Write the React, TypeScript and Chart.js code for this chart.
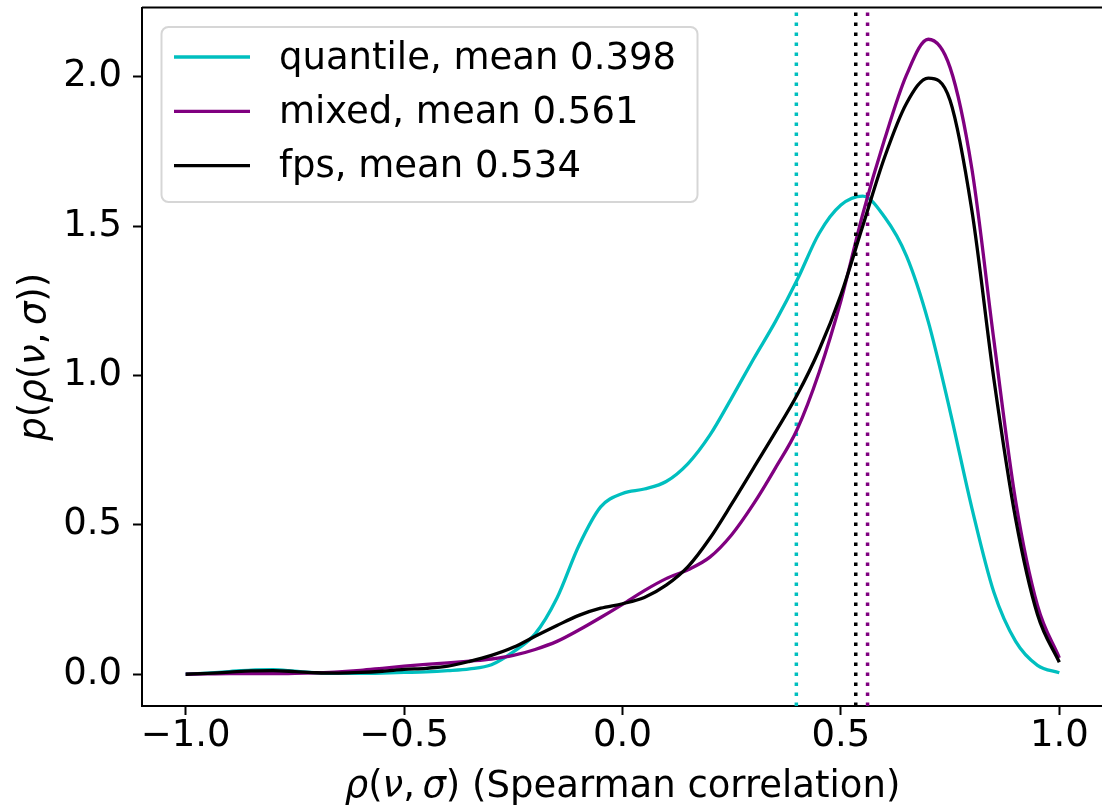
import React, { useEffect, useRef } from "react";
import Chart from "chart.js/auto";

// Evaluation grid for the kernel density estimates of Spearman correlation
const rhoGrid = [
  -1.0, -0.95, -0.9, -0.85, -0.8, -0.75, -0.7, -0.65, -0.6, -0.55,
  -0.5, -0.45, -0.4, -0.35, -0.3, -0.25, -0.2, -0.15, -0.1, -0.05,
  0.0, 0.05, 0.1, 0.15, 0.2, 0.25, 0.3, 0.35, 0.4, 0.45,
  0.5, 0.55, 0.6, 0.65, 0.7, 0.75, 0.8, 0.85, 0.9, 0.95, 1.0,
];

const quantileDensity = [
  0.0, 0.004, 0.009, 0.014, 0.015, 0.01, 0.005, 0.003, 0.003, 0.004,
  0.006, 0.008, 0.012, 0.018, 0.032, 0.075, 0.135, 0.255, 0.43, 0.56,
  0.605, 0.62, 0.645, 0.705, 0.8, 0.925, 1.055, 1.18, 1.32, 1.475,
  1.57, 1.6, 1.53, 1.4, 1.18, 0.88, 0.555, 0.275, 0.11, 0.03, 0.005,
];

const mixedDensity = [
  0.0, 0.001, 0.002, 0.002, 0.002, 0.003, 0.005, 0.008, 0.013, 0.02,
  0.027, 0.033, 0.038, 0.044, 0.051, 0.063, 0.083, 0.11, 0.148, 0.19,
  0.234, 0.28, 0.32, 0.35, 0.392, 0.467, 0.57, 0.69, 0.82, 1.01,
  1.25, 1.54, 1.79, 2.005, 2.125, 2.03, 1.69, 1.12, 0.58, 0.23, 0.055,
];

const fpsDensity = [
  0.0, 0.003, 0.007, 0.011, 0.012, 0.009, 0.005, 0.004, 0.006, 0.01,
  0.016, 0.02, 0.027, 0.043, 0.063, 0.09, 0.127, 0.163, 0.197, 0.221,
  0.236, 0.257, 0.298, 0.36, 0.455, 0.57, 0.69, 0.81, 0.935, 1.085,
  1.27, 1.5, 1.73, 1.91, 1.995, 1.92, 1.55, 0.99, 0.52, 0.2, 0.04,
];

const seriesLabels = ["quantile", "mixed", "fps"];
const seriesMeans = [0.398, 0.561, 0.534];
const seriesColors = ["#00bfbf", "#800080", "#000000"];

const xTickValues = [-1.0, -0.5, 0.0, 0.5, 1.0];
const yTickValues = [0.0, 0.5, 1.0, 1.5, 2.0];

// Canvas and plot-box geometry (pixels)
const CANVAS_W = 1120;
const CANVAS_H = 811;
const BOX = { left: 142, top: 7.5, right: 1103, bottom: 706 };
const FONT_FAMILY = '"DejaVu Sans", "Liberation Sans", sans-serif';
const FONT_PX = 37;

type Seg = [string, boolean];
const xTitle: Seg[] = [
  ["ρ", true], ["(", false], ["ν", true], [",", false], ["\u2009", false],
  ["σ", true], [")", false], [" (Spearman correlation)", false],
];
const yTitle: Seg[] = [
  ["p", true], ["(", false], ["ρ", true], ["(", false], ["ν", true],
  [",", false], ["\u2009", false], ["σ", true], [")", false], [")", false],
];

const fmtTick = (v: number) => (v < 0 ? "\u2212" : "") + Math.abs(v).toFixed(1);

function segFont(italic: boolean) {
  return `${italic ? "italic " : ""}${FONT_PX}px ${FONT_FAMILY}`;
}

function drawSegments(ctx: CanvasRenderingContext2D, segs: Seg[], cx: number, baseline: number) {
  let total = 0;
  const widths = segs.map(([t, it]) => {
    ctx.font = segFont(it);
    const w = ctx.measureText(t).width;
    total += w;
    return w;
  });
  let x = cx - total / 2;
  ctx.textAlign = "left";
  ctx.textBaseline = "alphabetic";
  segs.forEach(([t, it], i) => {
    ctx.font = segFont(it);
    ctx.fillText(t, x, baseline);
    x += widths[i];
  });
}

const framePlugin = {
  id: "frameAndLabels",
  afterDraw(chart: any) {
    const { ctx, chartArea } = chart;
    ctx.save();
    // top and right spines
    ctx.strokeStyle = "#000";
    ctx.lineWidth = 2;
    ctx.beginPath();
    ctx.moveTo(chartArea.left, chartArea.top);
    ctx.lineTo(chartArea.right, chartArea.top);
    ctx.lineTo(chartArea.right, chartArea.bottom);
    ctx.stroke();

    // axis titles
    ctx.fillStyle = "#000";
    const cx = (chartArea.left + chartArea.right) / 2;
    drawSegments(ctx, xTitle, cx, 797);
    ctx.save();
    ctx.translate(45, (chartArea.top + chartArea.bottom) / 2);
    ctx.rotate(-Math.PI / 2);
    drawSegments(ctx, yTitle, 0, 0);
    ctx.restore();

    // legend
    const lx = chartArea.left + 19.5;
    const ly = chartArea.top + 19.5;
    const lw = 536;
    const lh = 175;
    const r = 7;
    ctx.beginPath();
    ctx.moveTo(lx + r, ly);
    ctx.lineTo(lx + lw - r, ly);
    ctx.arcTo(lx + lw, ly, lx + lw, ly + r, r);
    ctx.lineTo(lx + lw, ly + lh - r);
    ctx.arcTo(lx + lw, ly + lh, lx + lw - r, ly + lh, r);
    ctx.lineTo(lx + r, ly + lh);
    ctx.arcTo(lx, ly + lh, lx, ly + lh - r, r);
    ctx.lineTo(lx, ly + r);
    ctx.arcTo(lx, ly, lx + r, ly, r);
    ctx.closePath();
    ctx.fillStyle = "rgba(255,255,255,0.8)";
    ctx.fill();
    ctx.strokeStyle = "rgba(204,204,204,0.8)";
    ctx.lineWidth = 2;
    ctx.stroke();

    seriesLabels.forEach((label, i) => {
      const rowY = 57 + i * 54.3;
      ctx.strokeStyle = seriesColors[i];
      ctx.lineWidth = 3.3;
      ctx.beginPath();
      ctx.moveTo(174, rowY);
      ctx.lineTo(250, rowY);
      ctx.stroke();
      ctx.fillStyle = "#000";
      ctx.font = `${FONT_PX}px ${FONT_FAMILY}`;
      ctx.textAlign = "left";
      ctx.textBaseline = "alphabetic";
      ctx.fillText(`${label}, mean ${seriesMeans[i].toFixed(3)}`, 279, rowY + 11.5);
    });
    ctx.restore();
  },
};

export default function App() {
  const canvasRef = useRef<HTMLCanvasElement | null>(null);

  useEffect(() => {
    const canvas = canvasRef.current;
    if (!canvas) return;

    const densities = [quantileDensity, mixedDensity, fpsDensity];
    const allY = densities.flat();
    const yLo = Math.min(...allY);
    const yHi = Math.max(...allY);
    const yPad = (yHi - yLo) * 0.05;
    const yMin = yLo - yPad;
    const yMax = yHi + yPad;
    const xLo = rhoGrid[0];
    const xHi = rhoGrid[rhoGrid.length - 1];
    const xPad = (xHi - xLo) * 0.05;

    const datasets: any[] = [];
    seriesLabels.forEach((label, i) => {
      datasets.push({
        label,
        data: rhoGrid.map((x, k) => ({ x, y: densities[i][k] })),
        borderColor: seriesColors[i],
        borderWidth: 3.3,
        pointRadius: 0,
        cubicInterpolationMode: "monotone",
        fill: false,
        order: 5 - 2 * i,
      });
      datasets.push({
        label: `${label} mean`,
        data: [
          { x: seriesMeans[i], y: yMin },
          { x: seriesMeans[i], y: yMax },
        ],
        borderColor: seriesColors[i],
        borderWidth: 3.5,
        borderDash: [3.5, 6.5],
        borderCapStyle: "butt",
        pointRadius: 0,
        fill: false,
        order: 4 - 2 * i,
      });
    });

    const tickFont = { family: FONT_FAMILY, size: FONT_PX, lineHeight: 1 };
    const noEdgePadding = (s: any) => {
      s.paddingTop = 0;
      s.paddingBottom = 0;
      s.paddingLeft = 0;
      s.paddingRight = 0;
    };

    const chart = new Chart(canvas, {
      type: "line",
      data: { datasets },
      plugins: [framePlugin],
      options: {
        responsive: false,
        animation: false,
        events: [],
        layout: {
          padding: { left: 0, top: BOX.top, right: CANVAS_W - BOX.right, bottom: 0 },
        },
        plugins: {
          legend: { display: false },
          tooltip: { enabled: false },
        },
        scales: {
          x: {
            type: "linear",
            min: xLo - xPad,
            max: xHi + xPad,
            afterBuildTicks: (s: any) => {
              s.ticks = xTickValues.map((v) => ({ value: v }));
            },
            afterFit: (s: any) => {
              s.height = CANVAS_H - BOX.bottom;
              noEdgePadding(s);
            },
            ticks: {
              callback: (v: any) => fmtTick(Number(v)),
              font: tickFont,
              color: "#000",
              padding: 3,
              maxRotation: 0,
              autoSkip: false,
            },
            grid: {
              drawOnChartArea: false,
              drawTicks: true,
              tickLength: 9,
              tickWidth: 2,
              tickColor: "#000",
            },
            border: { display: true, color: "#000", width: 2 },
          },
          y: {
            type: "linear",
            min: yMin,
            max: yMax,
            afterBuildTicks: (s: any) => {
              s.ticks = yTickValues.map((v) => ({ value: v }));
            },
            afterFit: (s: any) => {
              s.width = BOX.left;
              noEdgePadding(s);
            },
            ticks: {
              callback: (v: any) => fmtTick(Number(v)),
              font: tickFont,
              color: "#000",
              padding: 11,
              autoSkip: false,
            },
            grid: {
              drawOnChartArea: false,
              drawTicks: true,
              tickLength: 9,
              tickWidth: 2,
              tickColor: "#000",
            },
            border: { display: true, color: "#000", width: 2 },
          },
        },
      } as any,
    });

    return () => chart.destroy();
  }, []);

  return (
    <div
      style={{
        position: "fixed",
        left: 0,
        top: 0,
        width: 1102,
        height: 811,
        overflow: "hidden",
        background: "#fff",
      }}
    >
      <canvas
        ref={canvasRef}
        width={CANVAS_W}
        height={CANVAS_H}
        style={{ display: "block", width: CANVAS_W, height: CANVAS_H }}
      />
    </div>
  );
}
